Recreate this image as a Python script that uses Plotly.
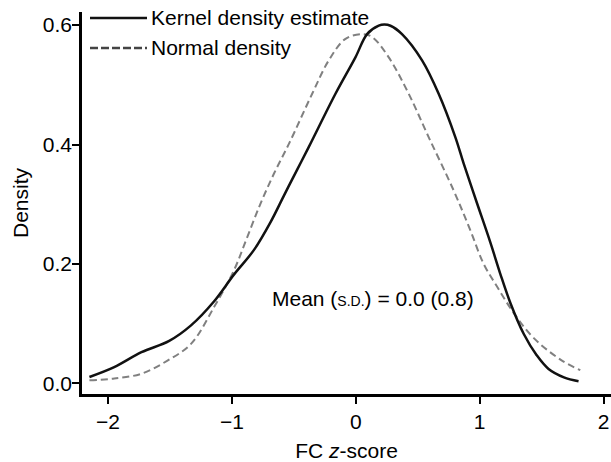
import plotly.graph_objects as go

# Kernel density estimate
kde_x = [-2.15, -1.95, -1.73, -1.506, -1.33, -1.145, -0.984, -0.823, -0.688, -0.581, -0.473,
         -0.379, -0.164, -0.003, 0.091, 0.185, 0.23, 0.28, 0.373, 0.535, 0.669, 0.804,
         0.871, 0.978, 1.086, 1.167, 1.247, 1.355, 1.46, 1.556, 1.68, 1.798]
kde_y = [0.0105, 0.027, 0.052, 0.071, 0.097, 0.137, 0.182, 0.223, 0.270, 0.314, 0.358,
         0.396, 0.485, 0.546, 0.585, 0.599, 0.601, 0.599, 0.585, 0.541, 0.485, 0.412,
         0.368, 0.302, 0.236, 0.183, 0.135, 0.083, 0.047, 0.024, 0.010, 0.0035]

# Normal density
norm_x = [-2.15, -1.95, -1.73, -1.52, -1.33, -1.143, -0.984, -0.876, -0.769, -0.661, -0.540,
          -0.352, -0.218, -0.083, 0.051, 0.132, 0.266, 0.427, 0.589, 0.79, 0.925, 1.032,
          1.14, 1.274, 1.435, 1.664, 1.812]
norm_y = [0.005, 0.008, 0.016, 0.038, 0.066, 0.128, 0.189, 0.245, 0.301, 0.351, 0.401,
          0.485, 0.541, 0.577, 0.585, 0.580, 0.546, 0.485, 0.412, 0.323, 0.256, 0.200,
          0.162, 0.118, 0.076, 0.038, 0.022]

x_ticks = [-2, -1, 0, 1, 2]
y_ticks = [0.0, 0.2, 0.4, 0.6]
legend_labels = ["Kernel density estimate", "Normal density"]

FONT = "Liberation Sans, Arial, Helvetica, sans-serif"

fig = go.Figure()
fig.add_trace(go.Scatter(x=norm_x, y=norm_y, mode="lines", name=legend_labels[1],
                         line=dict(color="#808080", width=2, dash="7px,4px", shape="spline"),
                         showlegend=False))
fig.add_trace(go.Scatter(x=kde_x, y=kde_y, mode="lines", name=legend_labels[0],
                         line=dict(color="#111111", width=2.5, shape="spline"),
                         showlegend=False))

# manual legend
fig.add_shape(type="line", xref="paper", yref="paper", x0=8/529, x1=65/529,
              y0=(394-18)/382, y1=(394-18)/382, line=dict(color="#111111", width=2.5))
fig.add_shape(type="line", xref="paper", yref="paper", x0=8/529, x1=65/529,
              y0=(394-48)/382, y1=(394-48)/382, line=dict(color="#444444", width=2.5, dash="8px,3px"))
fig.add_annotation(xref="paper", yref="paper", x=67/529, y=(394-18)/382, text=legend_labels[0],
                   showarrow=False, xanchor="left", yanchor="middle",
                   font=dict(size=21, color="black", family=FONT))
fig.add_annotation(xref="paper", yref="paper", x=67/529, y=(394-47)/382, text=legend_labels[1],
                   showarrow=False, xanchor="left", yanchor="middle",
                   font=dict(size=21, color="black", family=FONT))

fig.add_annotation(x=-0.69, y=0.142, xref="x", yref="y",
                   text="Mean (<span style='font-size:14px'>S.D.</span>) = 0.0 (0.8)",
                   showarrow=False, xanchor="left", yanchor="middle",
                   font=dict(size=21, color="black", family=FONT))

fig.update_layout(
    width=611, height=462,
    margin=dict(l=82, r=0, t=12, b=68),
    paper_bgcolor="white", plot_bgcolor="white",
    font=dict(family=FONT, size=21, color="black"),
    xaxis=dict(range=[-2.21, 2.06], tickvals=x_ticks, showline=True, linecolor="black",
               linewidth=2.5, ticks="outside", ticklen=7, tickwidth=2, tickcolor="black",
               showgrid=False, zeroline=False, automargin=False, ticklabelstandoff=0,
               title=dict(text="FC <i>z</i>-score", font=dict(size=21), standoff=13)),
    yaxis=dict(range=[-0.018, 0.622], tickvals=y_ticks, tickformat=".1f", showline=True,
               linecolor="black", linewidth=2.5, ticks="outside", ticklen=7, tickwidth=2,
               tickcolor="black", showgrid=False, zeroline=False, automargin=False,
               ticklabelstandoff=-4,
               title=dict(text="Density", font=dict(size=21), standoff=9)),
)

fig.write_html("out.html", config={"displayModeBar": False},
               post_script="document.body.style.margin='0';document.body.style.padding='0';")
